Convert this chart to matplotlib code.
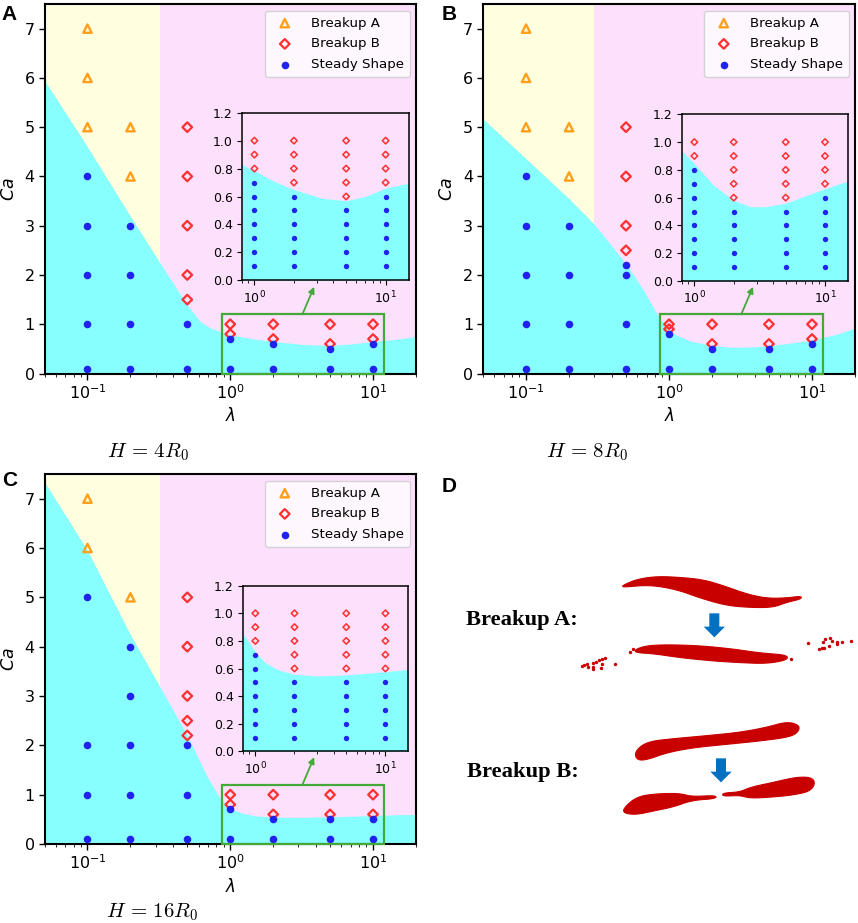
import matplotlib
matplotlib.use("Agg")
import matplotlib.pyplot as plt
from matplotlib.patches import Polygon, Rectangle

W, H = 858, 923
PINK, YELLOW, CYAN = "#fde0fb", "#ffffe0", "#88ffff"
BLUE, RED, ORANGE, GREEN = "#2222ee", "#ff3030", "#ff9f1c", "#45a83a"

# Panel A
a_bound_x = [0.05, 0.1, 0.2, 0.313, 0.5, 0.62, 0.72, 0.85, 1, 1.4, 2, 3.3, 5, 7, 10, 15, 20]
a_bound_y = [5.95, 4.6, 3.19, 2.3, 1.39, 1.05, 0.93, 0.85, 0.785, 0.71, 0.65, 0.587, 0.57, 0.60, 0.65, 0.70, 0.75]
a_in_x = [0.8, 1, 1.4, 2, 3.3, 5, 7, 10, 15]
a_in_y = [0.83, 0.785, 0.71, 0.65, 0.587, 0.57, 0.60, 0.66, 0.695]
a_split = 0.32
a_A = {0.1: [7, 6, 5], 0.2: [5, 4]}
a_B = {0.5: [5, 4, 3, 2, 1.5], 1: [1, 0.8], 2: [1, 0.7], 5: [1, 0.6], 10: [1, 0.7]}
a_S = {0.1: [4, 3, 2, 1, 0.1], 0.2: [3, 2, 1, 0.1], 0.5: [1, 0.1], 1: [0.7, 0.1], 2: [0.6, 0.1], 5: [0.5, 0.1], 10: [0.6, 0.1]}
a_in_B = {1: [1, 0.9, 0.8], 2: [1, 0.9, 0.8, 0.7], 5: [1, 0.9, 0.8, 0.7, 0.6], 10: [1, 0.9, 0.8, 0.7]}
a_in_S = {1: [0.7, 0.6, 0.5, 0.4, 0.3, 0.2, 0.1], 2: [0.6, 0.5, 0.4, 0.3, 0.2, 0.1], 5: [0.5, 0.4, 0.3, 0.2, 0.1], 10: [0.6, 0.5, 0.4, 0.3, 0.2, 0.1]}

# Panel B
b_bound_x = [0.05, 0.1, 0.2, 0.3, 0.5, 0.66, 0.82, 1, 1.4, 2, 2.7, 3.5, 5, 10, 15, 20]
b_bound_y = [5.17, 4.36, 3.55, 3.03, 2.23, 1.7, 1.22, 0.85, 0.66, 0.57, 0.535, 0.535, 0.56, 0.68, 0.80, 0.92]
b_in_x = [0.8, 1, 1.4, 2, 2.7, 3.5, 5, 10, 15]
b_in_y = [0.94, 0.845, 0.69, 0.58, 0.535, 0.535, 0.56, 0.665, 0.72]
b_split = 0.3
b_A = {0.1: [7, 6, 5], 0.2: [5, 4]}
b_B = {0.5: [5, 4, 3, 2.5], 1: [1, 0.9], 2: [1, 0.6], 5: [1, 0.6], 10: [1, 0.7]}
b_S = {0.1: [4, 3, 2, 1, 0.1], 0.2: [3, 2, 1, 0.1], 0.5: [2.2, 2, 1, 0.1], 1: [0.8, 0.1], 2: [0.5, 0.1], 5: [0.5, 0.1], 10: [0.6, 0.1]}
b_in_B = {1: [1, 0.9], 2: [1, 0.9, 0.8, 0.7, 0.6], 5: [1, 0.9, 0.8, 0.7, 0.6], 10: [1, 0.9, 0.8, 0.7]}
b_in_S = {1: [0.8, 0.7, 0.6, 0.5, 0.4, 0.3, 0.2, 0.1], 2: [0.5, 0.4, 0.3, 0.2, 0.1], 5: [0.5, 0.4, 0.3, 0.2, 0.1], 10: [0.6, 0.5, 0.4, 0.3, 0.2, 0.1]}

# Panel C
c_bound_x = [0.05, 0.1, 0.2, 0.32, 0.5, 0.68, 0.85, 1, 1.2, 1.5, 2, 3, 5, 10, 15, 20]
c_bound_y = [7.34, 5.95, 4.24, 3.2, 2.2, 1.4, 0.92, 0.72, 0.63, 0.57, 0.545, 0.54, 0.55, 0.577, 0.594, 0.6]
c_in_x = [0.8, 1, 1.2, 1.5, 2, 3, 5, 10, 15]
c_in_y = [0.855, 0.72, 0.64, 0.59, 0.558, 0.546, 0.553, 0.577, 0.594]
c_split = 0.32
c_A = {0.1: [7, 6], 0.2: [5]}
c_B = {0.5: [5, 4, 3, 2.5, 2.2], 1: [1, 0.8], 2: [1, 0.6], 5: [1, 0.6], 10: [1, 0.6]}
c_S = {0.1: [5, 2, 1, 0.1], 0.2: [4, 3, 2, 1, 0.1], 0.5: [2, 1, 0.1], 1: [0.7, 0.1], 2: [0.5, 0.1], 5: [0.5, 0.1], 10: [0.5, 0.1]}
c_in_B = {1: [1, 0.9, 0.8], 2: [1, 0.9, 0.8, 0.7, 0.6], 5: [1, 0.9, 0.8, 0.7, 0.6], 10: [1, 0.9, 0.8, 0.7, 0.6]}
c_in_S = {1: [0.7, 0.6, 0.5, 0.4, 0.3, 0.2, 0.1], 2: [0.5, 0.4, 0.3, 0.2, 0.1], 5: [0.5, 0.4, 0.3, 0.2, 0.1], 10: [0.5, 0.4, 0.3, 0.2, 0.1]}

# Panel D outlines, in zoomed reference units
drop_a1 = [(548,346),(590,328),(650,319),(720,322),(790,329),(850,347),(920,372),(980,385),(1040,384),(1084,378),
           (1084,387),(1040,397),(1000,412),(940,413),(860,407),(780,384),(720,362),(660,349),(610,346),(548,352)]
drop_a2 = [(586,538),(620,527),(680,524),(780,527),(880,537),(960,549),(1042,555),(1042,570),(980,581),(900,578),
           (820,573),(720,563),(640,551),(586,548)]
drop_b1 = [(584,845),(620,815),(700,806),(800,797),(900,787),(980,772),(1040,755),(1078,765),(1076,785),(1050,801),
           (960,813),(860,823),(760,833),(680,848),(620,870),(590,870)]
drop_b2l = [(550,1015),(590,980),(650,971),(720,970),(755,980),(828,976),(828,986),(755,991),(700,1011),(640,1023),
            (590,1034),(552,1030)]
drop_b2r = [(848,969),(900,966),(930,952),(1000,937),(1070,921),(1115,922),(1126,940),(1110,964),(1060,975),(1000,981),
            (930,985),(900,976),(848,979)]
specks = [(425,587),(432,585),(440,582),(443,590),(460,578),(467,575),(460,590),(460,597),(478,570),(485,567),(495,565),
          (485,583),(482,595),(525,583),(570,545),(578,538),(1052,566),(1105,520),(1137,537),(1145,535),(1152,533),
          (1167,528),(1150,517),(1155,508),(1170,505),(1175,512),(1190,515),(1192,522),(1205,517),(1232,512)]
arrow_a = (823, 430, 502)
arrow_b = (843, 865, 937)

fig = plt.figure(figsize=(W / 100, H / 100), dpi=100)


def px_axes(l, t, r, b, **kw):
    return fig.add_axes([l / W, 1 - b / H, (r - l) / W, (b - t) / H], **kw)


def expand(groups):
    xs, ys = [], []
    for k, vals in groups.items():
        xs += [k] * len(vals)
        ys += vals
    return xs, ys


def rounded(outline, passes=3):
    pts = list(outline)
    for _ in range(passes):
        new = []
        for i, p in enumerate(pts):
            q = pts[(i + 1) % len(pts)]
            new.append((0.75 * p[0] + 0.25 * q[0], 0.75 * p[1] + 0.25 * q[1]))
            new.append((0.25 * p[0] + 0.75 * q[0], 0.25 * p[1] + 0.75 * q[1]))
        pts = new
    return pts


def style_b(ax, xs, ys, s, lw, **kw):
    ax.scatter(xs, ys, s=s, marker="D", facecolors="none", edgecolors=RED, linewidths=lw, zorder=4, **kw)


def panel(box, inbox, bx, by, ix, iy, split, A, B, S, iB, iS, title, title_xy):
    ax = px_axes(*box)
    ax.set_facecolor(PINK)
    ax.axvspan(0.05, split, color=YELLOW, lw=0, zorder=1)
    ax.fill_between(bx, 0, by, color=CYAN, lw=0, zorder=2)
    ax.scatter(*expand(A), s=36, marker="^", facecolors="none", edgecolors=ORANGE, linewidths=1.7, zorder=4, label="Breakup A")
    style_b(ax, *expand(B), 24, 1.6, label="Breakup B")
    ax.scatter(*expand(S), s=30, marker="o", color=BLUE, lw=0, zorder=5, label="Steady Shape")
    ax.set_xscale("log")
    ax.set_xlim(0.05, 20)
    ax.set_ylim(0, 7.5)
    ax.set_yticks(range(8))
    ax.tick_params(labelsize=11.5, width=1, length=4, pad=3)
    ax.set_xlabel(r"$\lambda$", fontsize=12, labelpad=4)
    ax.set_ylabel(r"$Ca$", fontsize=12.5, labelpad=5)
    for sp in ax.spines.values():
        sp.set_linewidth(1.5)
    ax.legend(loc="upper right", bbox_to_anchor=(0.985, 0.982), fontsize=9.6, borderaxespad=0,
              handletextpad=1.0, labelspacing=0.58, borderpad=0.45, scatterpoints=1)
    ax.add_patch(Rectangle((0.87, 0), 11.9 - 0.87, 1.2, fill=False, edgecolor=GREEN, lw=1.6, zorder=6, clip_on=False))
    ax.annotate("", xy=(3.87, 1.76), xytext=(3.2, 1.2),
                arrowprops=dict(arrowstyle="-|>", color=GREEN, lw=1.3, mutation_scale=9, shrinkA=0, shrinkB=0), zorder=6)

    ins = px_axes(*inbox)
    ins.set_facecolor(PINK)
    ins.fill_between(ix, 0, iy, color=CYAN, lw=0, zorder=2)
    style_b(ins, *expand(iB), 11, 1.1)
    ins.scatter(*expand(iS), s=15, marker="o", color=BLUE, lw=0, zorder=5)
    ins.set_xscale("log")
    ins.set_xlim(0.8, 15)
    ins.set_ylim(0, 1.2)
    ins.set_yticks([0, 0.2, 0.4, 0.6, 0.8, 1.0, 1.2])
    ins.tick_params(labelsize=9, pad=3)
    for sp in ins.spines.values():
        sp.set_linewidth(1.1)
    fig.text(title_xy[0] / W, 1 - title_xy[1] / H, title, fontsize=15, ha="center", va="center", math_fontfamily="cm")


panel((44.5, 4, 416, 373.5), (241.7, 112.7, 408.7, 280.3), a_bound_x, a_bound_y, a_in_x, a_in_y, a_split,
      a_A, a_B, a_S, a_in_B, a_in_S, r"$H\,=\,4R_0$", (148, 452))
panel((483, 4, 855, 373.5), (681.7, 114.3, 848, 281), b_bound_x, b_bound_y, b_in_x, b_in_y, b_split,
      b_A, b_B, b_S, b_in_B, b_in_S, r"$H\,=\,8R_0$", (587, 452))
panel((44.5, 474, 416, 844), (242.7, 585.7, 408.3, 751.3), c_bound_x, c_bound_y, c_in_x, c_in_y, c_split,
      c_A, c_B, c_S, c_in_B, c_in_S, r"$H\,=\,16R_0$", (152, 912))

for letter, x, y in [("A", 9, 15), ("B", 449, 15), ("C", 10, 481), ("D", 449, 486)]:
    fig.text(x / W, 1 - y / H, letter, fontsize=15, fontweight="bold", family="Liberation Sans", ha="center", va="center")

# Panel D, drawn on an overlay measured in zoom units
od = px_axes(440, 470, 858, 870)
od.set_xlim(0, 1254)
od.set_ylim(1200, 0)
od.axis("off")
DROP = "#c80000"
for outline in (drop_a1, drop_a2, drop_b1, drop_b2l, drop_b2r):
    od.add_patch(Polygon(rounded(outline), closed=True, facecolor=DROP, edgecolor=DROP, lw=0.8, joinstyle="round"))
od.scatter([p[0] for p in specks], [p[1] for p in specks], s=6, color=DROP, lw=0)
for cx, top, tip in (arrow_a, arrow_b):
    neck = tip - 32
    od.add_patch(Polygon([(cx - 15, top), (cx + 15, top), (cx + 15, neck), (cx + 32, neck), (cx, tip),
                          (cx - 32, neck), (cx - 15, neck)], closed=True, facecolor="#0070c0", edgecolor="none"))
for txt, x, y in (("Breakup A:", 77, 450), ("Breakup B:", 82, 905)):
    od.text(x, y, txt, fontsize=16.2, fontweight="bold", family="Liberation Serif", ha="left", va="center")

fig.savefig("out.png", dpi=100)
